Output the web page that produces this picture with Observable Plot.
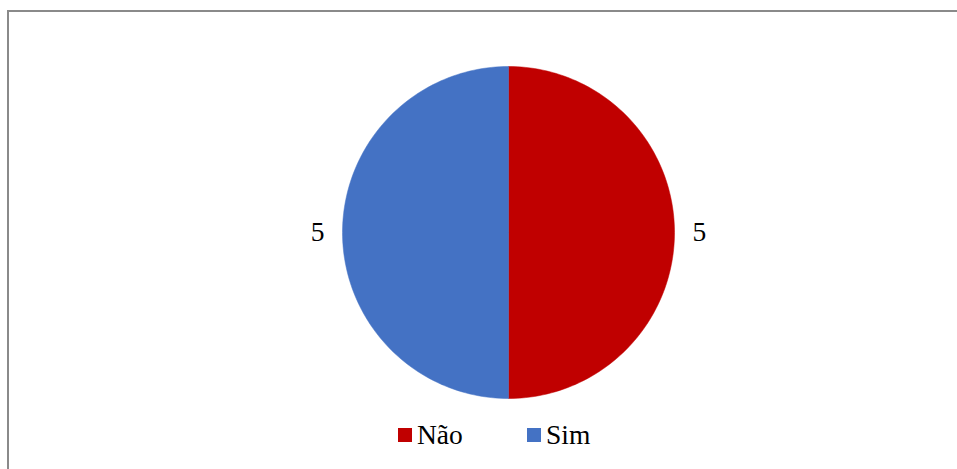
<!DOCTYPE html>
<html>
<head>
<meta charset="utf-8">
<script src="https://cdn.jsdelivr.net/npm/d3@7"></script>
<script src="https://cdn.jsdelivr.net/npm/@observablehq/plot@0.6"></script>
<style>
  html, body { margin: 0; padding: 0; background: #fff; }
  #wrap { position: relative; width: 957px; height: 469px; overflow: hidden; background: #fff; }
  #border { position: absolute; left: 7px; top: 10px; width: 1000px; height: 1000px; border: 2px solid #8a8a8a; box-sizing: border-box; }
  #chart { position: absolute; left: 0; top: 0; }
  #legend { position: absolute; top: 419px; left: 0; width: 957px; font-family: "Liberation Serif", "Times New Roman", serif; font-size: 27.5px; color: #000; }
  .item { position: absolute; display: flex; align-items: center; white-space: nowrap; }
  .sw { width: 14px; height: 14px; margin-right: 5px; }
  svg text { font-family: "Liberation Serif", "Times New Roman", serif !important; }
</style>
</head>
<body>
<div id="wrap">
  <div id="border"></div>
  <div id="chart"></div>
  <div id="legend"></div>
</div>
<script>
const categories = ["Não", "Sim"];
const values = [5, 5];
const colors = ["#C00000", "#4472C4"];

const pie = d3.pie().sort(null).value((d, i) => values[i])(categories);

const slicePoints = [];
pie.forEach((p, i) => {
  const name = categories[i];
  slicePoints.push({name, x: 0, y: 0});
  const n = 120;
  for (let k = 0; k <= n; k++) {
    const a = p.startAngle + (p.endAngle - p.startAngle) * k / n;
    slicePoints.push({name, x: Math.sin(a), y: Math.cos(a)});
  }
  slicePoints.push({name, x: 0, y: 0});
});

const labelR = 1.15;
const labels = pie.map((p, i) => {
  const a = (p.startAngle + p.endAngle) / 2;
  return {name: categories[i], value: values[i], x: labelR * Math.sin(a), y: labelR * Math.cos(a)};
});

const chart = Plot.plot({
  width: 957,
  height: 420,
  marginLeft: 342,
  marginRight: 283,
  marginTop: 66,
  marginBottom: 22,
  x: {domain: [-1, 1], axis: null},
  y: {domain: [-1, 1], axis: null},
  color: {domain: categories, range: colors},
  style: {background: "transparent"},
  marks: [
    Plot.line(slicePoints, {x: "x", y: "y", z: "name", fill: "name", stroke: "name", strokeWidth: 0.5}),
    Plot.text(labels, {x: "x", y: "y", text: d => String(d.value), fontSize: 27.5, fill: "#000"})
  ]
});
document.getElementById("chart").appendChild(chart);

const legend = document.getElementById("legend");
const legendLeft = [398, 527];
categories.forEach((c, i) => {
  const item = document.createElement("div");
  item.className = "item";
  item.style.left = legendLeft[i] + "px";
  const sw = document.createElement("div");
  sw.className = "sw";
  sw.style.background = colors[i];
  const t = document.createElement("span");
  t.textContent = c;
  item.appendChild(sw);
  item.appendChild(t);
  legend.appendChild(item);
});
</script>
</body>
</html>
